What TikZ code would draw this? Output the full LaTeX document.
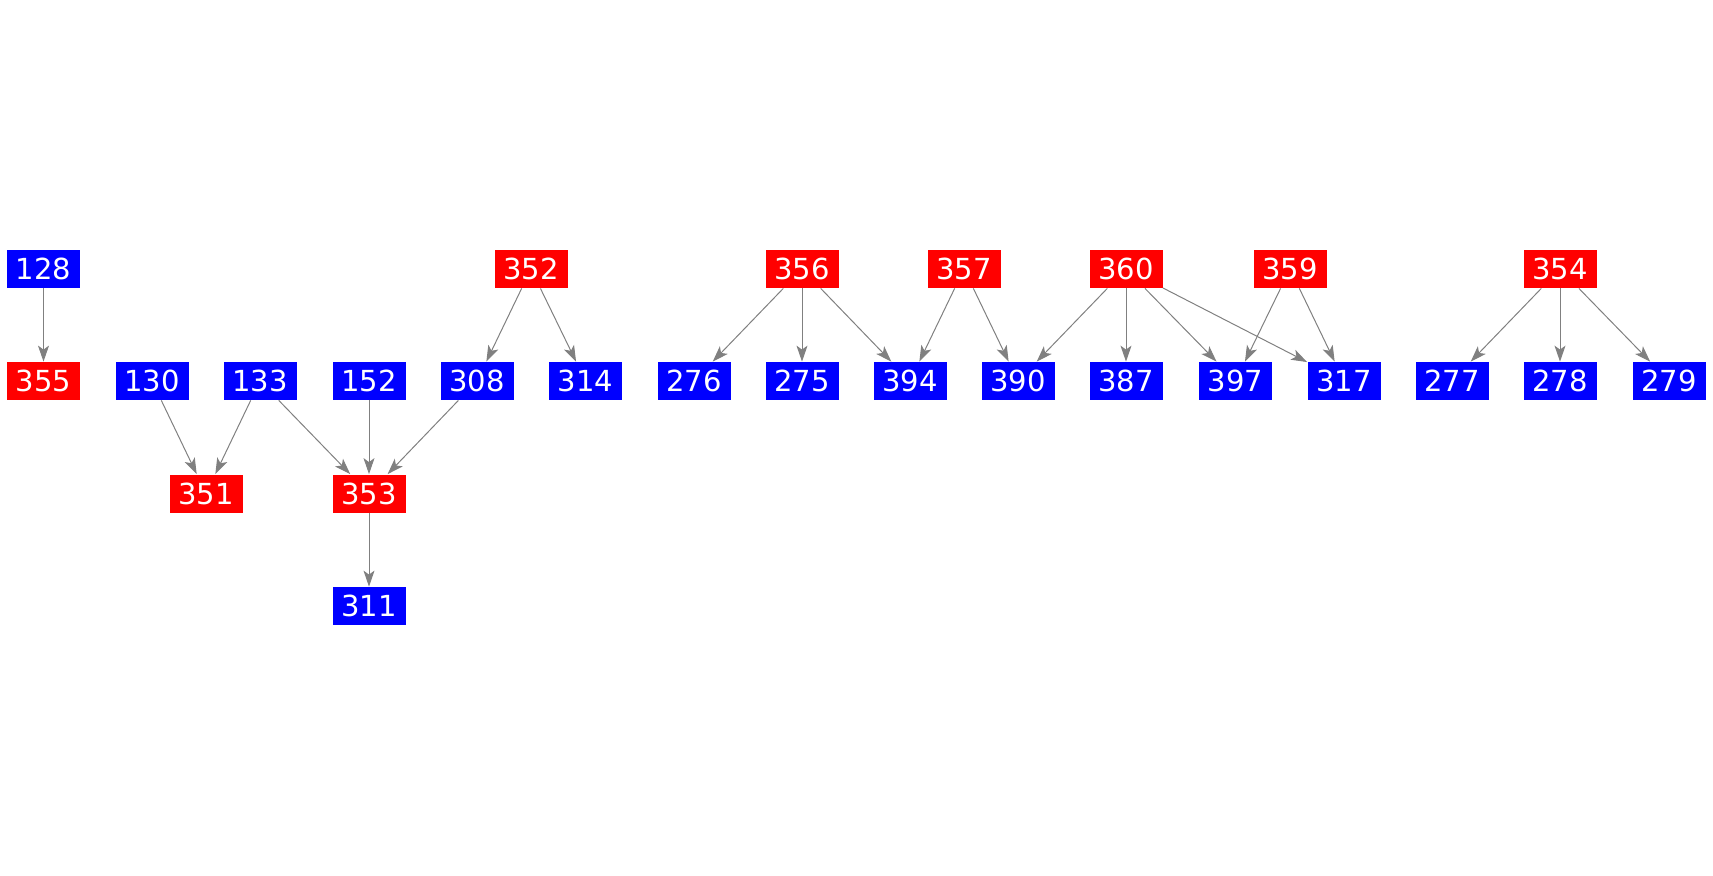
\documentclass[tikz,border=0pt]{standalone}
\usepackage{fontspec}
\setmainfont{DejaVu Sans}
\usetikzlibrary{arrows.meta}
\begin{document}
\begin{tikzpicture}[x=0.5pt, y=-0.5pt, >={Stealth[length=8pt, width=5.5pt, inset=2pt]},
		box/.style={minimum width=36.5pt, minimum height=19pt, inner sep=0pt, text=white, font=\fontsize{14.5}{16}\selectfont},
		redbox/.style={box, fill=red},
		bluebox/.style={box, fill=blue},
		link/.style={->, draw=gray, line width=0.5pt}]
		\useasboundingbox (0,0) rectangle (1713,875);
		% top row
		\foreach \lab/\x in {352/531, 356/802, 357/964, 360/1126, 359/1290, 354/1560}{
			\node[redbox] (n\lab) at (\x,269) {\lab};
		}
		\node[bluebox] (n128) at (43.5,269) {128};
		% second row
		\node[redbox] (n355) at (43.5,381) {355};
		\foreach \lab/\x in {130/152, 133/260, 152/369, 308/477, 314/585.5, 276/694, 275/802, 394/910, 390/1018, 387/1126, 397/1235.5, 317/1344, 277/1452, 278/1560, 279/1669}{
			\node[bluebox] (n\lab) at (\x,381) {\lab};
		}
		% third and fourth row
		\node[redbox] (n351) at (206,493.5) {351};
		\node[redbox] (n353) at (369,493.5) {353};
		\node[bluebox] (n311) at (369,606) {311};
		% edges
		\foreach \a/\b in {128/355, 130/351, 133/351, 133/353, 152/353, 308/353, 353/311, 352/308, 352/314, 356/276, 356/275, 356/394, 357/394, 357/390, 360/390, 360/387, 360/397, 360/317, 359/397, 359/317, 354/277, 354/278, 354/279}{
			\draw[link] (n\a) -- (n\b);
		}
	\end{tikzpicture}
\end{document}
